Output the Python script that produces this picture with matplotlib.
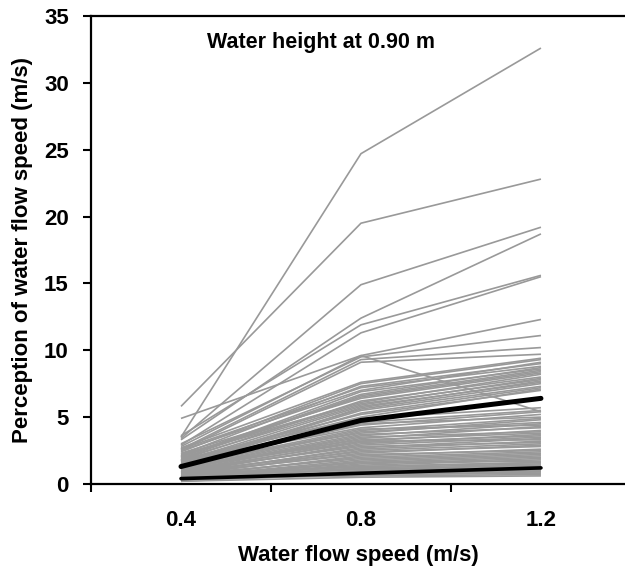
import matplotlib
matplotlib.use("Agg")
import matplotlib.pyplot as plt
import numpy as np

plt.rcParams['font.family'] = ['Liberation Sans', 'DejaVu Sans']
plt.rcParams['font.weight'] = 'bold'

speeds = ["0.4", "0.8", "1.2"]

# individual participants (grey lines): values at 0.4, 0.8, 1.2 m/s
v04 = [3.5, 5.8, 3.4, 3.3, 3.6, 2.9, 4.9, 3.0, 2.6, 2.8, 2.5, 2.7,
       2.4, 2.2, 2.6, 2.0, 1.9, 2.3, 1.8, 2.1, 1.7, 2.5, 1.6, 2.0, 1.5, 2.2, 1.9, 1.4, 2.1, 1.8, 1.3, 1.7,
       1.8, 1.6, 1.5, 1.7, 1.4, 1.3, 1.5, 1.2, 1.1, 1.4, 1.0, 1.2, 0.9, 1.1, 1.3, 0.8, 1.0, 0.9, 0.7, 1.2,
       0.8, 0.6, 1.0, 0.7, 0.9, 0.5, 0.8, 0.6, 0.7, 0.5, 0.4, 0.6, 0.3, 0.5, 0.4, 0.6, 0.3, 0.4, 0.2, 0.5,
       0.3, 0.4, 0.2, 0.3, 0.6, 0.5, 0.4, 0.3, 0.2, 0.3]
v08 = [24.7, 19.5, 14.9, 12.4, 11.9, 11.3, 9.6, 9.5, 9.3, 9.6, 9.1, 7.6,
       7.5, 7.3, 7.2, 6.9, 6.6, 6.4, 6.2, 6.0, 5.8, 7.0, 5.6, 6.7, 5.5, 6.1, 5.9, 5.3, 6.5, 5.2, 5.7, 5.0,
       4.9, 4.6, 4.4, 4.2, 4.5, 4.0, 3.8, 3.9, 3.6, 4.1, 3.4, 3.7, 3.2, 3.5, 3.3, 3.0, 3.1, 2.9, 2.7, 3.2,
       2.6, 2.5, 2.8, 2.3, 2.4, 2.1, 2.2, 2.0, 1.9, 1.8, 1.7, 1.6, 1.5, 1.4, 1.6, 1.3, 1.2, 1.1, 1.0, 1.3,
       0.9, 1.2, 0.8, 0.9, 0.7, 1.1, 0.6, 0.8, 0.5, 0.7]
v12 = [32.6, 22.8, 19.2, 18.7, 15.6, 15.5, 12.3, 11.1, 10.2, 5.4, 9.7, 9.4,
       9.3, 9.0, 8.8, 8.6, 8.5, 8.3, 8.0, 7.8, 7.6, 9.1, 7.5, 8.7, 7.3, 8.2, 7.9, 7.2, 8.4, 7.0, 7.7, 7.1,
       5.7, 5.5, 5.4, 5.2, 5.0, 4.9, 4.8, 4.6, 4.5, 4.4, 4.3, 4.2, 4.0, 3.9, 3.8, 3.7, 3.6, 3.5, 3.4, 3.3,
       3.2, 3.0, 3.1, 2.9, 2.8, 2.6, 2.5, 2.4, 2.3, 2.2, 2.1, 2.0, 1.9, 1.8, 1.7, 1.6, 1.5, 1.4, 1.3, 1.6,
       1.1, 1.0, 0.9, 1.2, 0.8, 1.4, 0.7, 1.0, 0.6, 0.9]

# black summary lines
mean_line = [1.3, 4.75, 6.4]
low_line = [0.4, 0.8, 1.2]

fig = plt.figure(figsize=(6.25, 5.7), dpi=100)
ax = fig.add_axes([0.1456, 0.151, 0.8544, 0.821])

x = np.arange(len(speeds))
for a, b, c in zip(v04, v08, v12):
    ax.plot(x, [a, b, c], color='#999999', lw=1.2, solid_capstyle='butt')
ax.plot(x, mean_line, color='black', lw=3.6, solid_capstyle='round')
ax.plot(x, low_line, color='black', lw=2.6, solid_capstyle='round')

ax.set_xlim(-0.5, 2.467)
ax.set_ylim(0, 35)
ax.set_yticks(range(0, 36, 5))
ax.set_xticks(x)
ax.set_xticklabels(speeds)
ax.set_xticks([-0.5, 0.5, 1.5], minor=True)
ax.tick_params(axis='x', which='major', length=0, pad=19, labelsize=16)
ax.tick_params(axis='x', which='minor', length=6, width=1.5, direction='out')
ax.tick_params(axis='y', length=6, width=1.5, direction='out', pad=10, labelsize=16)

for s in ['left', 'bottom', 'top']:
    ax.spines[s].set_linewidth(1.6)
ax.spines['right'].set_visible(False)

ax.set_xlabel("Water flow speed (m/s)", fontsize=16, fontweight='bold', labelpad=10)
ax.set_ylabel("Perception of water flow speed (m/s)", fontsize=16, fontweight='bold', labelpad=8)
ax.text(0.78, 33.0, "Water height at 0.90 m", fontsize=15.5, fontweight='bold',
        ha='center', va='center')

fig.savefig("out.png", dpi=100)
